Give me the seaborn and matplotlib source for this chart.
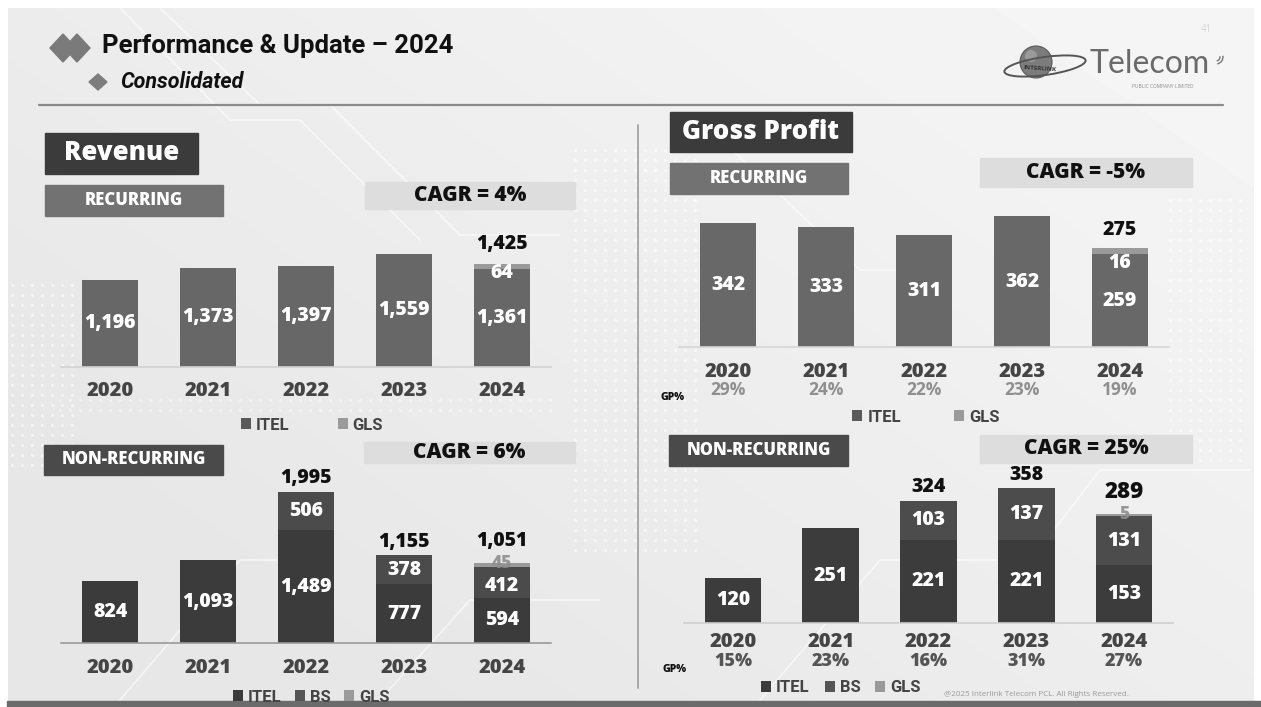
import numpy as np
import matplotlib
matplotlib.use("Agg")
import matplotlib.pyplot as plt
from matplotlib.patches import Rectangle, Polygon, Circle, Ellipse, Arc, Patch
import seaborn as sns

# ---------------- data ----------------
years = ["2020", "2021", "2022", "2023", "2024"]

rev_rec_itel = [1196, 1373, 1397, 1559, 1361]
rev_rec_gls = [0, 0, 0, 0, 64]
rev_rec_cagr = "CAGR = 4%"

rev_non_itel = [824, 1093, 1489, 777, 594]
rev_non_bs = [0, 0, 506, 378, 412]
rev_non_gls = [0, 0, 0, 0, 45]
rev_non_cagr = "CAGR = 6%"

gp_rec_itel = [342, 333, 311, 362, 259]
gp_rec_gls = [0, 0, 0, 0, 16]
gp_rec_margin = ["29%", "24%", "22%", "23%", "19%"]
gp_rec_cagr = "CAGR = -5%"

gp_non_itel = [120, 251, 221, 221, 153]
gp_non_bs = [0, 0, 103, 137, 131]
gp_non_gls = [0, 0, 0, 0, 5]
gp_non_margin = ["15%", "23%", "16%", "31%", "27%"]
gp_non_cagr = "CAGR = 25%"

# ---------------- setup ----------------
W, H = 1261, 707
PT = 0.72  # points per pixel at 100 dpi
HEAVY = 800

sns.set_theme(style="white")
plt.rcParams["font.family"] = ["Open Sans", "DejaVu Sans"]

fig = plt.figure(figsize=(W / 100, H / 100), dpi=100)
fig.patch.set_facecolor("white")

bg = fig.add_axes([0, 0, 1, 1], zorder=0)
bg.set_xlim(0, W)
bg.set_ylim(H, 0)
bg.axis("off")

# slide background: soft light-grey gradient
yy, xx = np.mgrid[0:1:160j, 0:1:300j]
shade = 0.905 + 0.055 * np.clip(0.75 * xx + 0.6 * (1 - yy) - 0.25, 0, 1)
bg.imshow(shade, cmap="gray", vmin=0, vmax=1, extent=(8, 1254, 701, 8),
          aspect="auto", interpolation="bilinear", zorder=0)


def dot_grid(x0, x1, y0, y1, step=10, alpha=0.55):
    X, Y = np.meshgrid(np.arange(x0, x1, step), np.arange(y0, y1, step))
    bg.scatter(X.ravel(), Y.ravel(), s=5, c="white", alpha=alpha, lw=0, zorder=1)


dot_grid(12, 75, 285, 470)
dot_grid(575, 700, 150, 560)
dot_grid(1170, 1250, 200, 470)
dot_grid(60, 560, 400, 412, alpha=0.4)

# faint circuit traces
for pts in [[(120, 8), (230, 120), (300, 120), (420, 240)],
            [(160, 8), (260, 105), (330, 105), (460, 235), (560, 235)],
            [(700, 120), (860, 270), (900, 270)],
            [(120, 700), (240, 560), (330, 560)],
            [(380, 700), (470, 600), (600, 600)],
            [(760, 700), (880, 560), (1000, 560)],
            [(1000, 600), (1100, 470), (1250, 470)]]:
    xs, ys = zip(*pts)
    bg.plot(xs, ys, color="white", lw=1.2, alpha=0.6, zorder=1)

# bottom band
bg.add_patch(Rectangle((7, 701), W - 7, 6, color="#6b6b6b", zorder=2))

# ---------------- header ----------------
for cx in (63, 77):
    bg.add_patch(Polygon([(cx - 13, 48), (cx, 34), (cx + 13, 48), (cx, 62)],
                         closed=True, color="#7a7a7a", zorder=3))
bg.add_patch(Polygon([(89, 82), (98, 74), (107, 82), (98, 90)],
                     closed=True, color="#7d7d7d", zorder=3))
bg.text(102, 46, "Performance & Update \u2013 2024", family=["Roboto", "DejaVu Sans"],
        weight="bold", fontsize=18.5, color="#111111", va="center", ha="left", zorder=3)
bg.text(120, 82, "Consolidated", family=["Roboto", "DejaVu Sans"], weight="bold",
        style="italic", fontsize=15.5, color="#111111", va="center", ha="left", zorder=3)
bg.plot([39, 1223], [105, 105], color="#8a8a8a", lw=1.6, zorder=3)
bg.plot([638, 638], [125, 688], color="#a9a9a9", lw=1.4, zorder=3)
bg.text(1206, 29, "41", fontsize=7, color="#d6d6d6", ha="center", va="center", zorder=3)

# logo
bg.add_patch(Circle((1036, 62), 16, facecolor="#7c7c7c", edgecolor="#5a5a5a", lw=0.8, zorder=3))
bg.add_patch(Circle((1031, 56), 6, facecolor="#a8a8a8", edgecolor="none", alpha=0.7, zorder=3))
bg.add_patch(Ellipse((1045, 66), 82, 18, angle=-8, fill=False, edgecolor="#555555", lw=1.4, zorder=4))
bg.text(1040, 69, "INTERLINK", fontsize=4.5, color="#333333", weight="bold",
        ha="center", va="center", rotation=-4, zorder=5)
bg.text(1090, 64, "Telecom", family=["Lato", "DejaVu Sans"], fontsize=23,
        color="#6a6a6a", ha="left", va="center", zorder=3)
for r in (4, 7):
    bg.add_patch(Arc((1216, 57), 2 * r, 2 * r, theta1=-10, theta2=80,
                     color="#777777", lw=1, zorder=3))
bg.text(1163, 86, "PUBLIC COMPANY LIMITED", fontsize=3.5, color="#8a8a8a",
        ha="center", va="center", zorder=3)


def box(x0, y0, x1, y1, color, text, tcolor, size, weight=HEAVY):
    bg.add_patch(Rectangle((x0, y0), x1 - x0, y1 - y0, color=color, zorder=3))
    bg.text((x0 + x1) / 2, (y0 + y1) / 2, text, color=tcolor, fontsize=size,
            weight=weight, ha="center", va="center", zorder=4)


box(45, 133, 198, 174, "#3b3b3b", "Revenue", "white", 18.5)
box(45, 185, 223, 216, "#727272", "RECURRING", "white", 12)
box(365, 182, 575, 209, "#dddddd", rev_rec_cagr, "#111111", 15)
box(44, 445, 223, 475, "#4a4a4a", "NON-RECURRING", "white", 12)
box(364, 442, 575, 463, "#dddddd", rev_non_cagr, "#111111", 15)

box(670, 112, 852, 152, "#3b3b3b", "Gross Profit", "white", 18.5)
box(670, 163, 848, 194, "#727272", "RECURRING", "white", 12)
box(980, 158, 1192, 187, "#dddddd", gp_rec_cagr, "#111111", 15)
box(669, 435, 848, 466, "#4a4a4a", "NON-RECURRING", "white", 12)
box(980, 435, 1192, 463, "#dddddd", gp_non_cagr, "#111111", 15)


# ---------------- bar panels ----------------
def panel(x0, x1, base, ymax, scale, layers, colors, total_off, special,
          year_off, spine_color, boundary_ticks=False):
    top = base - ymax * scale
    ax = fig.add_axes([x0 / W, 1 - base / H, (x1 - x0) / W, (base - top) / H], zorder=2)
    ax.patch.set_alpha(0)
    cums, run = [], np.zeros(len(years))
    for vals in layers:
        run = run + np.asarray(vals, dtype=float)
        cums.append(run.copy())
    # stacked bars: draw cumulative totals from the top layer down
    for cum, color in reversed(list(zip(cums, colors))):
        sns.barplot(x=years, y=cum, order=years, color=color, width=0.58,
                    saturation=1, linewidth=0, errorbar=None, ax=ax)
    ax.set_xlim(-0.5, len(years) - 0.5)
    ax.set_ylim(0, ymax)
    ax.set(xlabel=None, ylabel=None, yticks=[])
    ax.set_xticks(range(len(years)))
    ax.set_xticklabels([])
    ax.tick_params(axis="x", length=0)
    for s in ("top", "right", "left"):
        ax.spines[s].set_visible(False)
    ax.spines["bottom"].set_color(spine_color)
    ax.spines["bottom"].set_linewidth(1.2)
    if boundary_ticks:
        ax.set_xticks(np.arange(-0.5, len(years)), minor=True)
        ax.tick_params(axis="x", which="minor", length=4, width=1.2,
                       color=spine_color, direction="out")
    # segment labels
    for li, vals in enumerate(layers):
        below = cums[li] - np.asarray(vals)
        for j, v in enumerate(vals):
            if v <= 0:
                continue
            mid = below[j] + v / 2
            dy, col, alpha, size = special.get((li, j), (0, "white", 1, 14))
            ax.annotate(f"{v:,}", xy=(j, mid), xytext=(0, -dy * PT),
                        textcoords="offset points", ha="center", va="center",
                        color=col, alpha=alpha, fontsize=size, weight=HEAVY)
    # totals above stacked bars
    for j in range(len(years)):
        nseg = sum(1 for vals in layers if vals[j] > 0)
        if nseg > 1:
            off, size = total_off.get(j, (14, 14))
            ax.annotate(f"{int(cums[-1][j]):,}", xy=(j, cums[-1][j]),
                        xytext=(0, off * PT), textcoords="offset points",
                        ha="center", va="center", color="#111111",
                        fontsize=size, weight=HEAVY)
    # category labels
    for j, yr in enumerate(years):
        ax.annotate(yr, xy=(j, 0), xytext=(0, -year_off * PT), textcoords="offset points",
                    ha="center", va="center", color="#454545", fontsize=14.5,
                    weight=HEAVY, annotation_clip=False)
    return ax


ax1 = panel(61, 551, 366.5, 2000, 0.0720,
            [rev_rec_itel, rev_rec_gls], ["#676767", "#9a9a9a"],
            total_off={4: (20, 14)}, special={(1, 4): (7, "white", 1, 14)},
            year_off=25, spine_color="#d2d2d2")

ax2 = panel(61, 551, 643, 2300, 0.0758,
            [rev_non_itel, rev_non_bs, rev_non_gls], ["#3b3b3b", "#4b4b4b", "#9a9a9a"],
            total_off={2: (14, 14), 3: (13, 14), 4: (22, 14)},
            special={(1, 4): (4, "white", 1, 14), (2, 4): (-2, "#8e8e8e", 0.9, 12.5)},
            year_off=25, spine_color="#9a9a9a", boundary_ticks=True)

ax3 = panel(679, 1169, 347.5, 420, 0.3626,
            [gp_rec_itel, gp_rec_gls], ["#686868", "#9a9a9a"],
            total_off={4: (18, 14)}, special={(1, 4): (12, "white", 1, 14)},
            year_off=25, spine_color="#d6d6d6")

ax4 = panel(684, 1173, 623, 420, 0.377,
            [gp_non_itel, gp_non_bs, gp_non_gls], ["#3c3c3c", "#4c4c4c", "#9a9a9a"],
            total_off={2: (14, 14), 3: (13, 14), 4: (22, 16)},
            special={(2, 4): (0, "#8e8e8e", 0.9, 12.5)},
            year_off=19, spine_color="#cfcfcf")

# gross-margin rows
for j, m in enumerate(gp_rec_margin):
    ax3.annotate(m, xy=(j, 0), xytext=(0, -43 * PT), textcoords="offset points",
                 ha="center", va="center", color="#8f8f8f", fontsize=12.5,
                 weight="bold", annotation_clip=False)
for j, m in enumerate(gp_non_margin):
    ax4.annotate(m, xy=(j, 0), xytext=(0, -39 * PT), textcoords="offset points",
                 ha="center", va="center", color="#555555", fontsize=13,
                 weight=HEAVY, annotation_clip=False)
bg.text(673, 397, "GP%", fontsize=7.5, weight=HEAVY, color="#111111",
        ha="center", va="center", zorder=3)
bg.text(675, 670, "GP%", fontsize=7.5, weight=HEAVY, color="#111111",
        ha="center", va="center", zorder=3)


# ---------------- legends ----------------
def legend(ax, labels, colors, cx, cy, spacing):
    handles = [Patch(facecolor=c, edgecolor="none", label=l) for l, c in zip(labels, colors)]
    ax.legend(handles=handles, loc="center", bbox_to_anchor=(cx / W, 1 - cy / H),
              bbox_transform=fig.transFigure, ncol=len(labels), frameon=False,
              handlelength=0.6, handleheight=0.6, handletextpad=0.3,
              columnspacing=spacing, borderpad=0,
              prop={"family": ["Roboto", "DejaVu Sans"], "weight": "bold", "size": 12},
              labelcolor="#444444")


legend(ax1, ["ITEL", "GLS"], ["#5a5a5a", "#9a9a9a"], 312, 425, 2.9)
legend(ax2, ["ITEL", "BS", "GLS"], ["#3b3b3b", "#555555", "#9a9a9a"], 311, 697, 0.8)
legend(ax3, ["ITEL", "GLS"], ["#5a5a5a", "#9a9a9a"], 926, 417, 3.2)
legend(ax4, ["ITEL", "BS", "GLS"], ["#3b3b3b", "#555555", "#9a9a9a"], 841, 688, 0.9)

bg.text(944, 694, "@2025 Interlink Telecom PCL. All Rights Reserved.", fontsize=5.8,
        color="#9a9a9a", ha="left", va="center", zorder=3)

fig.savefig("out.png", dpi=100)
